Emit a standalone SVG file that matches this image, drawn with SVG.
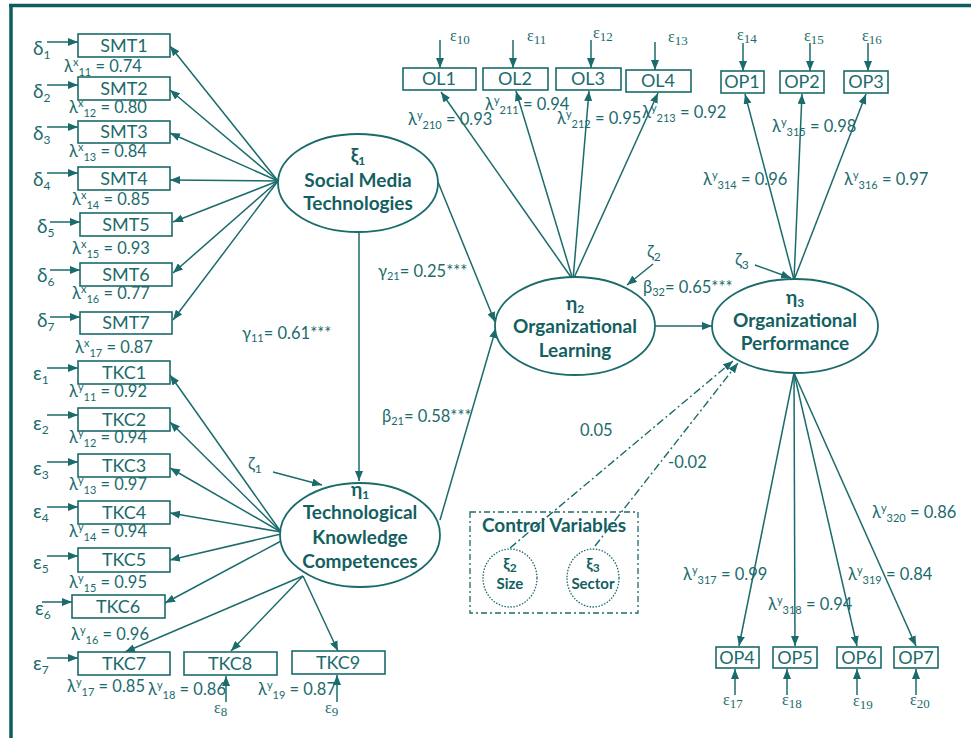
<svg xmlns="http://www.w3.org/2000/svg" width="971" height="738" viewBox="0 0 971 738">
<defs>
<style>
.ln{stroke:#1c6b6c;stroke-width:1.5;fill:none}
.dd{stroke:#1c6b6c;stroke-width:1.4;fill:none;stroke-dasharray:8 3 2 3}
.box{fill:#fff;stroke:#1c6b6c;stroke-width:1.6}
.ell{fill:#fff;stroke:#1c6b6c;stroke-width:1.8}
.bt{font-family:Lato,"Open Sans",sans-serif;font-size:18px;fill:#1c6b6c;text-anchor:middle}
.lb{font-family:Lato,"Open Sans",sans-serif;font-size:16.5px;fill:#1c6b6c}
.gk{font-family:Lato,"Open Sans",sans-serif;font-size:19px;fill:#1c6b6c}
.nt{font-family:Lato,"Open Sans",sans-serif;font-size:19px;font-weight:bold;fill:#135f61;text-anchor:middle}
.sr{font-family:"Liberation Serif","Times New Roman",serif;font-size:16px;fill:#1c6b6c}
.s{font-size:12px}
.lb .s{font-size:11px}
</style>
<marker id="ah" viewBox="0 0 10 8" refX="10" refY="4" markerWidth="10" markerHeight="8" markerUnits="userSpaceOnUse" orient="auto"><path d="M0,0 L10,4 L0,8 z" fill="#1c6b6c"/></marker>
</defs>
<rect width="971" height="738" fill="#fff"/>
<g id="frame"><path d="M9,5.5 H971 M11,4 V738" stroke="#0f5d5f" stroke-width="3.5" fill="none"/></g>

<g id="connectors">
<path class="ln" marker-end="url(#ah)" d="M278,181 L170,46"/>
<path class="ln" marker-end="url(#ah)" d="M278,181 L170,90"/>
<path class="ln" marker-end="url(#ah)" d="M278,181 L170,133"/>
<path class="ln" marker-end="url(#ah)" d="M278,181 L170,180"/>
<path class="ln" marker-end="url(#ah)" d="M278,181 L173,222"/>
<path class="ln" marker-end="url(#ah)" d="M278,181 L173,273"/>
<path class="ln" marker-end="url(#ah)" d="M278,181 L173,320"/>
<path class="ln" marker-end="url(#ah)" d="M281,532 L170,375"/>
<path class="ln" marker-end="url(#ah)" d="M281,532 L170,422"/>
<path class="ln" marker-end="url(#ah)" d="M281,532 L170,468"/>
<path class="ln" marker-end="url(#ah)" d="M281,532 L170,513"/>
<path class="ln" marker-end="url(#ah)" d="M281,534 L170,560"/>
<path class="ln" marker-end="url(#ah)" d="M283,540 L165,603"/>
<path class="ln" marker-end="url(#ah)" d="M303,576 L125,652"/>
<path class="ln" marker-end="url(#ah)" d="M303,576 L231,651"/>
<path class="ln" marker-end="url(#ah)" d="M303,576 L338,651"/>
<path class="ln" marker-end="url(#ah)" d="M47,42 H78"/>
<path class="ln" marker-end="url(#ah)" d="M47,85 H78"/>
<path class="ln" marker-end="url(#ah)" d="M47,127 H78"/>
<path class="ln" marker-end="url(#ah)" d="M47,173 H78"/>
<path class="ln" marker-end="url(#ah)" d="M50,222 H80"/>
<path class="ln" marker-end="url(#ah)" d="M50,270 H80"/>
<path class="ln" marker-end="url(#ah)" d="M50,317 H80"/>
<path class="ln" marker-end="url(#ah)" d="M47,368 H78"/>
<path class="ln" marker-end="url(#ah)" d="M47,415 H78"/>
<path class="ln" marker-end="url(#ah)" d="M47,462 H78"/>
<path class="ln" marker-end="url(#ah)" d="M47,507 H78"/>
<path class="ln" marker-end="url(#ah)" d="M47,556 H78"/>
<path class="ln" marker-end="url(#ah)" d="M42,602 H72"/>
<path class="ln" marker-end="url(#ah)" d="M47,658 H78"/>
<path class="ln" marker-end="url(#ah)" d="M226,702 V676"/>
<path class="ln" marker-end="url(#ah)" d="M337,702 V675"/>
<path class="ln" marker-end="url(#ah)" d="M359,232 V481"/>
<path class="ln" marker-end="url(#ah)" d="M273,472 L322,485"/>
<path class="ln" marker-end="url(#ah)" d="M438,182 L495,322"/>
<path class="ln" marker-end="url(#ah)" d="M440,520 L496,328"/>
<path class="ln" marker-end="url(#ah)" d="M655,326 H712"/>
<path class="ln" marker-end="url(#ah)" d="M653,264 L627,285"/>
<path class="ln" marker-end="url(#ah)" d="M755,265 L791,278"/>
<path class="ln" marker-end="url(#ah)" d="M573,280 L441,92"/>
<path class="ln" marker-end="url(#ah)" d="M573,280 L516,91"/>
<path class="ln" marker-end="url(#ah)" d="M573,280 L589,91"/>
<path class="ln" marker-end="url(#ah)" d="M573,280 L658,93"/>
<path class="ln" marker-end="url(#ah)" d="M440,40 V68"/>
<path class="ln" marker-end="url(#ah)" d="M513,40 V68"/>
<path class="ln" marker-end="url(#ah)" d="M591,40 V68"/>
<path class="ln" marker-end="url(#ah)" d="M655,42 V70"/>
<path class="ln" marker-end="url(#ah)" d="M794,280 L745,94"/>
<path class="ln" marker-end="url(#ah)" d="M794,280 L802,94"/>
<path class="ln" marker-end="url(#ah)" d="M794,280 L866,94"/>
<path class="ln" marker-end="url(#ah)" d="M743,43 V71"/>
<path class="ln" marker-end="url(#ah)" d="M810,43 V71"/>
<path class="ln" marker-end="url(#ah)" d="M868,43 V71"/>
<path class="ln" marker-end="url(#ah)" d="M794,373 L739,646"/>
<path class="ln" marker-end="url(#ah)" d="M794,373 L795,646"/>
<path class="ln" marker-end="url(#ah)" d="M794,373 L857,646"/>
<path class="ln" marker-end="url(#ah)" d="M794,373 L916,646"/>
<path class="ln" marker-end="url(#ah)" d="M735,695 V669"/>
<path class="ln" marker-end="url(#ah)" d="M787,695 V669"/>
<path class="ln" marker-end="url(#ah)" d="M857,695 V669"/>
<path class="ln" marker-end="url(#ah)" d="M916,695 V669"/>
<path class="dd" marker-end="url(#ah)" d="M510,548 L733,361"/>
<path class="dd" marker-end="url(#ah)" d="M595,546 L738,363"/>
</g>

<g id="smt-boxes">
<g id="SMT1"><rect class="box" x="78" y="34" width="92" height="23"/><text class="bt" x="124" y="52">SMT1</text></g>
<g id="SMT2"><rect class="box" x="78" y="77" width="92" height="23"/><text class="bt" x="124" y="95">SMT2</text></g>
<g id="SMT3"><rect class="box" x="78" y="121" width="92" height="22"/><text class="bt" x="124" y="138">SMT3</text></g>
<g id="SMT4"><rect class="box" x="78" y="167" width="92" height="23"/><text class="bt" x="124" y="185">SMT4</text></g>
<g id="SMT5"><rect class="box" x="80" y="213" width="92" height="23"/><text class="bt" x="126" y="231">SMT5</text></g>
<g id="SMT6"><rect class="box" x="80" y="263" width="92" height="23"/><text class="bt" x="126" y="281">SMT6</text></g>
<g id="SMT7"><rect class="box" x="80" y="312" width="92" height="22"/><text class="bt" x="126" y="329">SMT7</text></g>
</g>
<g id="tkc-boxes">
<g id="TKC1"><rect class="box" x="78" y="361" width="92" height="23"/><text class="bt" x="124" y="379">TKC1</text></g>
<g id="TKC2"><rect class="box" x="78" y="408" width="92" height="23"/><text class="bt" x="124" y="426">TKC2</text></g>
<g id="TKC3"><rect class="box" x="78" y="454" width="92" height="23"/><text class="bt" x="124" y="472">TKC3</text></g>
<g id="TKC4"><rect class="box" x="78" y="501" width="92" height="23"/><text class="bt" x="124" y="519">TKC4</text></g>
<g id="TKC5"><rect class="box" x="78" y="548" width="92" height="24"/><text class="bt" x="124" y="566">TKC5</text></g>
<g id="TKC6"><rect class="box" x="72" y="595" width="93" height="23"/><text class="bt" x="118" y="613">TKC6</text></g>
<g id="TKC7"><rect class="box" x="78" y="652" width="92" height="23"/><text class="bt" x="124" y="670">TKC7</text></g>
<g id="TKC8"><rect class="box" x="184" y="652" width="93" height="23"/><text class="bt" x="230" y="670">TKC8</text></g>
<g id="TKC9"><rect class="box" x="292" y="651" width="93" height="23"/><text class="bt" x="338" y="669">TKC9</text></g>
</g>
<g id="ol-boxes">
<g id="OL1"><rect class="box" x="403" y="68" width="73" height="22"/><text class="bt" x="439" y="85">OL1</text></g>
<g id="OL2"><rect class="box" x="483" y="68" width="65" height="22"/><text class="bt" x="515" y="85">OL2</text></g>
<g id="OL3"><rect class="box" x="556" y="68" width="65" height="22"/><text class="bt" x="588" y="85">OL3</text></g>
<g id="OL4"><rect class="box" x="626" y="70" width="65" height="22"/><text class="bt" x="658" y="87">OL4</text></g>
</g>
<g id="op-boxes">
<g id="OP1"><rect class="box" x="721" y="71" width="43" height="22"/><text class="bt" x="742" y="88">OP1</text></g>
<g id="OP2"><rect class="box" x="780" y="71" width="44" height="22"/><text class="bt" x="802" y="88">OP2</text></g>
<g id="OP3"><rect class="box" x="844" y="71" width="44" height="22"/><text class="bt" x="866" y="88">OP3</text></g>
<g id="OP4"><rect class="box" x="716" y="647" width="43" height="21"/><text class="bt" x="737" y="664">OP4</text></g>
<g id="OP5"><rect class="box" x="773" y="647" width="44" height="21"/><text class="bt" x="795" y="664">OP5</text></g>
<g id="OP6"><rect class="box" x="837" y="647" width="44" height="21"/><text class="bt" x="859" y="664">OP6</text></g>
<g id="OP7"><rect class="box" x="894" y="647" width="44" height="21"/><text class="bt" x="916" y="664">OP7</text></g>
</g>

<g id="xi1"><ellipse class="ell" cx="358" cy="183" rx="80" ry="49"/>
<text class="nt" x="358" y="162">ξ<tspan class="s" dy="3">1</tspan></text>
<text class="nt" x="358" y="187">Social Media</text>
<text class="nt" x="358" y="210">Technologies</text></g>
<g id="eta1"><ellipse class="ell" cx="360" cy="535" rx="80" ry="52"/>
<text class="nt" x="360" y="496">η<tspan class="s" dy="3">1</tspan></text>
<text class="nt" x="360" y="519">Technological</text>
<text class="nt" x="360" y="544">Knowledge</text>
<text class="nt" x="360" y="568">Competences</text></g>
<g id="eta2"><ellipse class="ell" cx="575" cy="326" rx="80" ry="49"/>
<text class="nt" x="575" y="310">η<tspan class="s" dy="3">2</tspan></text>
<text class="nt" x="575" y="333">Organizational</text>
<text class="nt" x="575" y="357">Learning</text></g>
<g id="eta3"><ellipse class="ell" cx="795" cy="326" rx="83" ry="47"/>
<text class="nt" x="795" y="304">η<tspan class="s" dy="3">3</tspan></text>
<text class="nt" x="795" y="327">Organizational</text>
<text class="nt" x="795" y="350">Performance</text></g>
<g id="control">
<rect x="470" y="512" width="168" height="101" fill="none" stroke="#1c6b6c" stroke-width="1.3" stroke-dasharray="6 3 2 3"/>
<text class="nt" x="554" y="532">Control Variables</text>
<g id="xi2"><ellipse cx="510" cy="578" rx="27" ry="29" fill="none" stroke="#1c6b6c" stroke-width="1.3" stroke-dasharray="1.5 1.5"/>
<text class="nt" x="510" y="569" style="font-size:16px">ξ<tspan class="s" dy="3">2</tspan></text>
<text class="nt" x="510" y="589" style="font-size:15px">Size</text></g>
<g id="xi3"><ellipse cx="593" cy="578" rx="26" ry="29" fill="none" stroke="#1c6b6c" stroke-width="1.3" stroke-dasharray="1.5 1.5"/>
<text class="nt" x="593" y="569" style="font-size:16px">ξ<tspan class="s" dy="3">3</tspan></text>
<text class="nt" x="593" y="589" style="font-size:15px">Sector</text></g>
</g>

<g id="error-labels">
<text class="gk" x="33" y="55">δ<tspan class="s" dy="4">1</tspan></text>
<text class="gk" x="33" y="98">δ<tspan class="s" dy="4">2</tspan></text>
<text class="gk" x="33" y="140">δ<tspan class="s" dy="4">3</tspan></text>
<text class="gk" x="33" y="186">δ<tspan class="s" dy="4">4</tspan></text>
<text class="gk" x="37" y="233">δ<tspan class="s" dy="4">5</tspan></text>
<text class="gk" x="37" y="282">δ<tspan class="s" dy="4">6</tspan></text>
<text class="gk" x="37" y="327">δ<tspan class="s" dy="4">7</tspan></text>
<text class="gk" x="33" y="380">ε<tspan class="s" dy="4">1</tspan></text>
<text class="gk" x="33" y="430">ε<tspan class="s" dy="4">2</tspan></text>
<text class="gk" x="33" y="475">ε<tspan class="s" dy="4">3</tspan></text>
<text class="gk" x="33" y="518">ε<tspan class="s" dy="4">4</tspan></text>
<text class="gk" x="33" y="569">ε<tspan class="s" dy="4">5</tspan></text>
<text class="gk" x="35" y="615">ε<tspan class="s" dy="4">6</tspan></text>
<text class="gk" x="33" y="670">ε<tspan class="s" dy="4">7</tspan></text>
<text class="sr" x="214" y="713">ε<tspan dy="3" style="font-size:13px">8</tspan></text>
<text class="sr" x="325" y="713">ε<tspan dy="3" style="font-size:13px">9</tspan></text>
<text class="sr" x="450" y="41">ε<tspan dy="3" style="font-size:13px">10</tspan></text>
<text class="sr" x="527" y="41">ε<tspan dy="3" style="font-size:13px">11</tspan></text>
<text class="sr" x="593" y="38">ε<tspan dy="3" style="font-size:13px">12</tspan></text>
<text class="sr" x="668" y="42">ε<tspan dy="3" style="font-size:13px">13</tspan></text>
<text class="sr" x="737" y="40">ε<tspan dy="3" style="font-size:13px">14</tspan></text>
<text class="sr" x="804" y="41">ε<tspan dy="3" style="font-size:13px">15</tspan></text>
<text class="sr" x="862" y="41">ε<tspan dy="3" style="font-size:13px">16</tspan></text>
<text class="sr" x="723" y="705">ε<tspan dy="3" style="font-size:13px">17</tspan></text>
<text class="sr" x="782" y="705">ε<tspan dy="3" style="font-size:13px">18</tspan></text>
<text class="sr" x="853" y="706">ε<tspan dy="3" style="font-size:13px">19</tspan></text>
<text class="sr" x="910" y="705">ε<tspan dy="3" style="font-size:13px">20</tspan></text>
<text class="gk" x="248" y="470" style="font-size:17px">ζ<tspan class="s" dy="3">1</tspan></text>
<text class="gk" x="647" y="258" style="font-size:17px">ζ<tspan class="s" dy="3">2</tspan></text>
<text class="gk" x="735" y="266" style="font-size:17px">ζ<tspan class="s" dy="3">3</tspan></text>
</g>

<g id="loading-labels">
<text class="lb" x="64" y="72">λ<tspan class="s" dy="-6">x</tspan><tspan class="s" dy="10">11</tspan><tspan dy="-4"> = 0.74</tspan></text>
<text class="lb" x="69" y="113">λ<tspan class="s" dy="-6">x</tspan><tspan class="s" dy="10">12</tspan><tspan dy="-4"> = 0.80</tspan></text>
<text class="lb" x="69" y="157">λ<tspan class="s" dy="-6">x</tspan><tspan class="s" dy="10">13</tspan><tspan dy="-4"> = 0.84</tspan></text>
<text class="lb" x="72" y="205">λ<tspan class="s" dy="-6">x</tspan><tspan class="s" dy="10">14</tspan><tspan dy="-4"> = 0.85</tspan></text>
<text class="lb" x="72" y="254">λ<tspan class="s" dy="-6">x</tspan><tspan class="s" dy="10">15</tspan><tspan dy="-4"> = 0.93</tspan></text>
<text class="lb" x="72" y="299">λ<tspan class="s" dy="-6">x</tspan><tspan class="s" dy="10">16</tspan><tspan dy="-4"> = 0.77</tspan></text>
<text class="lb" x="75" y="353">λ<tspan class="s" dy="-6">x</tspan><tspan class="s" dy="10">17</tspan><tspan dy="-4"> = 0.87</tspan></text>
<text class="lb" x="69" y="397">λ<tspan class="s" dy="-6">y</tspan><tspan class="s" dy="10">11</tspan><tspan dy="-4"> = 0.92</tspan></text>
<text class="lb" x="69" y="443">λ<tspan class="s" dy="-6">y</tspan><tspan class="s" dy="10">12</tspan><tspan dy="-4"> = 0.94</tspan></text>
<text class="lb" x="69" y="490">λ<tspan class="s" dy="-6">y</tspan><tspan class="s" dy="10">13</tspan><tspan dy="-4"> = 0.97</tspan></text>
<text class="lb" x="69" y="537">λ<tspan class="s" dy="-6">y</tspan><tspan class="s" dy="10">14</tspan><tspan dy="-4"> = 0.94</tspan></text>
<text class="lb" x="69" y="588">λ<tspan class="s" dy="-6">y</tspan><tspan class="s" dy="10">15</tspan><tspan dy="-4"> = 0.95</tspan></text>
<text class="lb" x="71" y="640">λ<tspan class="s" dy="-6">y</tspan><tspan class="s" dy="10">16</tspan><tspan dy="-4"> = 0.96</tspan></text>
<text class="lb" x="67" y="692">λ<tspan class="s" dy="-6">y</tspan><tspan class="s" dy="10">17</tspan><tspan dy="-4"> = 0.85</tspan></text>
<text class="lb" x="148" y="695">λ<tspan class="s" dy="-6">y</tspan><tspan class="s" dy="10">18</tspan><tspan dy="-4"> = 0.86</tspan></text>
<text class="lb" x="258" y="695">λ<tspan class="s" dy="-6">y</tspan><tspan class="s" dy="10">19</tspan><tspan dy="-4"> = 0.87</tspan></text>
<text class="lb" x="408" y="125">λ<tspan class="s" dy="-6">y</tspan><tspan class="s" dy="10">210</tspan><tspan dy="-4"> = 0.93</tspan></text>
<text class="lb" x="485" y="110">λ<tspan class="s" dy="-6">y</tspan><tspan class="s" dy="10">211</tspan><tspan dy="-4"> = 0.94</tspan></text>
<text class="lb" x="557" y="124">λ<tspan class="s" dy="-6">y</tspan><tspan class="s" dy="10">212</tspan><tspan dy="-4"> = 0.95</tspan></text>
<text class="lb" x="642" y="118">λ<tspan class="s" dy="-6">y</tspan><tspan class="s" dy="10">213</tspan><tspan dy="-4"> = 0.92</tspan></text>
<text class="lb" x="703" y="185">λ<tspan class="s" dy="-6">y</tspan><tspan class="s" dy="10">314</tspan><tspan dy="-4"> = 0.96</tspan></text>
<text class="lb" x="772" y="132">λ<tspan class="s" dy="-6">y</tspan><tspan class="s" dy="10">315</tspan><tspan dy="-4"> = 0.98</tspan></text>
<text class="lb" x="844" y="185">λ<tspan class="s" dy="-6">y</tspan><tspan class="s" dy="10">316</tspan><tspan dy="-4"> = 0.97</tspan></text>
<text class="lb" x="683" y="580">λ<tspan class="s" dy="-6">y</tspan><tspan class="s" dy="10">317</tspan><tspan dy="-4"> = 0.99</tspan></text>
<text class="lb" x="768" y="610">λ<tspan class="s" dy="-6">y</tspan><tspan class="s" dy="10">318</tspan><tspan dy="-4"> = 0.94</tspan></text>
<text class="lb" x="848" y="580">λ<tspan class="s" dy="-6">y</tspan><tspan class="s" dy="10">319</tspan><tspan dy="-4"> = 0.84</tspan></text>
<text class="lb" x="872" y="518">λ<tspan class="s" dy="-6">y</tspan><tspan class="s" dy="10">320</tspan><tspan dy="-4"> = 0.86</tspan></text>
</g>
<g id="path-labels">
<text class="lb" x="242" y="339">γ<tspan class="s" dy="3">11</tspan><tspan dy="-3">= 0.61***</tspan></text>
<text class="lb" x="378" y="277">γ<tspan class="s" dy="3">21</tspan><tspan dy="-3">= 0.25***</tspan></text>
<text class="lb" x="382" y="422">β<tspan class="s" dy="3">21</tspan><tspan dy="-3">= 0.58***</tspan></text>
<text class="lb" x="643" y="293">β<tspan class="s" dy="3">32</tspan><tspan dy="-3">= 0.65***</tspan></text>
<text class="lb" x="580" y="436">0.05</text>
<text class="lb" x="668" y="468">-0.02</text>
</g>
</svg>
